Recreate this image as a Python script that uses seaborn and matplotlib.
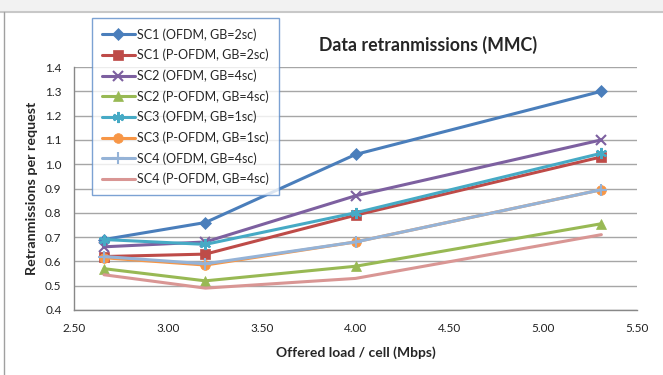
import matplotlib
matplotlib.use("Agg")
import matplotlib.pyplot as plt
import seaborn as sns
import pandas as pd
from matplotlib.patches import Rectangle
from matplotlib.lines import Line2D

sns.set_theme(style="white")
plt.rcParams['font.family'] = ['Lato', 'DejaVu Sans']

load = [2.66, 3.20, 4.00, 5.31]
sc1_ofdm = [0.69, 0.76, 1.04, 1.30]
sc1_pofdm = [0.62, 0.63, 0.79, 1.03]
sc2_ofdm = [0.66, 0.68, 0.87, 1.10]
sc2_pofdm = [0.57, 0.52, 0.58, 0.755]
sc3_ofdm = [0.69, 0.67, 0.80, 1.045]
sc3_pofdm = [0.615, 0.585, 0.68, 0.895]
sc4_ofdm = [0.62, 0.59, 0.68, 0.895]
sc4_pofdm = [0.545, 0.49, 0.53, 0.71]

names = ["SC1 (OFDM, GB=2sc)", "SC1 (P-OFDM, GB=2sc)", "SC2 (OFDM, GB=4sc)",
         "SC2 (P-OFDM, GB=4sc)", "SC3 (OFDM, GB=1sc)", "SC3 (P-OFDM, GB=1sc)",
         "SC4 (OFDM, GB=4sc)", "SC4 (P-OFDM, GB=4sc)"]
series = [sc1_ofdm, sc1_pofdm, sc2_ofdm, sc2_pofdm, sc3_ofdm, sc3_pofdm, sc4_ofdm, sc4_pofdm]
colors = ["#4A7EBB", "#BE4B48", "#7D60A0", "#98B954", "#46AAC5", "#F79646", "#95B3D7", "#D99694"]
markers = ["D", "s", "x", "^", (6, 2, 0), "o", "+", None]
msizes = [6.5, 7, 7, 7, 8, 7, 9, 0]

fig = plt.figure(figsize=(6.63, 3.75), dpi=100)
# Excel-like frame decorations
fig.patches.append(Rectangle((0, 1 - 11/375), 1, 11/375, transform=fig.transFigure,
                             facecolor="#F2F2F2", edgecolor="none", zorder=0))
fig.add_artist(Line2D([0, 1], [1 - 11.5/375, 1 - 11.5/375], transform=fig.transFigure,
                      color="#C8C8C8", lw=1.5))
fig.add_artist(Line2D([3.5/663, 3.5/663], [0, 1 - 12/375], transform=fig.transFigure,
                      color="#A0A0A0", lw=1))

ax = fig.add_axes([74/663, 1 - 310/375, (637 - 74)/663, (310 - 67)/375])

for name, vals, c, m, ms in zip(names, series, colors, markers, msizes):
    df = pd.DataFrame({"x": load, "y": vals})
    sns.lineplot(data=df, x="x", y="y", ax=ax, color=c, lw=2.2, marker=m,
                 markersize=ms, markeredgecolor=c,
                 markeredgewidth=1.5 if m in ("x", "+", (6, 2, 0)) else 0.5,
                 label=name, legend=False, sort=False)

ax.set_xlim(2.5, 5.5)
ax.set_ylim(0.4, 1.4)
ax.set_xticks([2.5, 3.0, 3.5, 4.0, 4.5, 5.0, 5.5])
ax.set_xticklabels(["2.50", "3.00", "3.50", "4.00", "4.50", "5.00", "5.50"])
ax.set_yticks([0.4 + 0.1 * i for i in range(11)])
ax.set_yticklabels([f"{0.4 + 0.1 * i:.1f}" for i in range(11)])
ax.yaxis.grid(True, color="#A6A6A6", lw=1)
ax.xaxis.grid(False)
for s in ["top", "right"]:
    ax.spines[s].set_visible(False)
ax.spines["left"].set_color("#888888")
ax.spines["bottom"].set_color("#888888")
ax.spines["left"].set_linewidth(1)
ax.spines["bottom"].set_linewidth(1)
ax.tick_params(axis="x", labelsize=8.5, colors="#222222", length=0, pad=9)
ax.tick_params(axis="y", labelsize=8.5, colors="#222222", length=0, pad=9)
ax.set_xlabel("Offered load / cell (Mbps)", fontsize=10, fontweight="bold", labelpad=9)
ax.set_ylabel("Retranmissions per request", fontsize=10.3, fontweight="bold", labelpad=5)

fig.text(428/663, 1 - 45/375, "Data retranmissions (MMC)", ha="center", va="center",
         fontsize=12.8, fontweight="bold")

handles, labels = ax.get_legend_handles_labels()
leg = fig.legend(handles, labels, loc="upper left", bbox_to_anchor=(92/663, 1 - 18/375),
                 fontsize=9.0, frameon=True, fancybox=False, edgecolor="#5B8BC9",
                 handlelength=2.6, labelspacing=0.65, borderpad=0.8, handletextpad=0.2,
                 borderaxespad=0)
leg.get_frame().set_linewidth(1)
leg.set_zorder(10)

fig.savefig("out.png", dpi=100)
